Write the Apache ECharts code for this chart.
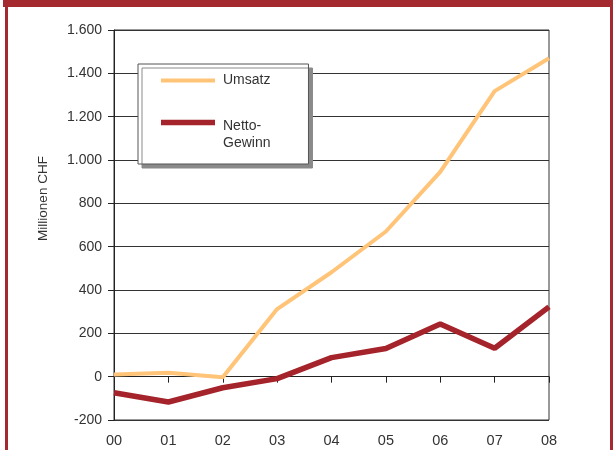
<!DOCTYPE html>
<html>
<head>
<meta charset="utf-8">
<script src="https://cdn.jsdelivr.net/npm/echarts@6/dist/echarts.min.js"></script>
<style>
  html, body { margin: 0; padding: 0; background: #fff; }
  #chart { width: 616px; height: 450px; }
</style>
</head>
<body>
<div id="chart"></div>
<script>
// years (x axis)
const years = ['00', '01', '02', '03', '04', '05', '06', '07', '08'];
// Mio. CHF
const umsatz = [10, 18, -3, 312, 482, 670, 945, 1318, 1470];
const nettoGewinn = [-74, -117, -51, -9, 88, 130, 243, 131, 322];

const FONT = 'Arial, "Liberation Sans", sans-serif';
const FRAME = '#a52a30';

// 1.600 style thousands separator
const fmt = v => String(v).replace(/\B(?=(\d{3})+(?!\d))/g, '.');

// legend bar icons: invisible slivers at 0 and 14 keep the icon box 14 high
const barIcon = (y0, y1) =>
  'path://M0,0L54,0L54,0.01L0,0.01Z' +
  'M0,' + y0 + 'L54,' + y0 + 'L54,' + y1 + 'L0,' + y1 + 'Z' +
  'M0,13.99L54,13.99L54,14L0,14Z';

const chart = echarts.init(document.getElementById('chart'));

chart.setOption({
  backgroundColor: '#fff',
  animation: false,
  textStyle: { fontFamily: FONT },
  grid: {
    left: 114,
    right: 67,
    top: 30,
    bottom: 30,
    show: true,
    borderColor: '#333',
    borderWidth: 1,
    backgroundColor: '#fff'
  },
  legend: {
    orient: 'vertical',
    left: 138,
    top: 64,
    padding: [9.5, 38, 14, 23],
    itemWidth: 54,
    itemHeight: 14,
    itemGap: 6,
    backgroundColor: '#fff',
    borderColor: '#555',
    borderWidth: 1,
    shadowColor: '#8a8a8a',
    shadowBlur: 0,
    shadowOffsetX: 4,
    shadowOffsetY: 4,
    formatter: name => name === 'Netto-Gewinn'
      ? '{s| }\n{t|Netto-}\n{t|Gewinn}'
      : '{t|' + name + '}',
    textStyle: {
      fontSize: 14,
      color: '#333',
      fontFamily: FONT,
      rich: {
        s: { fontSize: 14, lineHeight: 24, height: 24 },
        t: { fontSize: 14, lineHeight: 17, color: '#333', fontFamily: FONT, padding: [0, 0, 0, 3] }
      }
    },
    data: [
      { name: 'Umsatz', icon: barIcon(5, 9) },
      { name: 'Netto-Gewinn', icon: barIcon(4.25, 9.75) }
    ]
  },
  xAxis: [
    {
      type: 'category',
      data: years,
      boundaryGap: false,
      position: 'bottom',
      axisLine: { show: false, onZero: false },
      axisTick: { show: false },
      axisLabel: { color: '#333', fontSize: 14.5, margin: 13, fontFamily: FONT },
      splitLine: { show: false }
    },
    {
      // zero line with the year ticks
      type: 'category',
      data: years,
      boundaryGap: false,
      position: 'bottom',
      axisLine: { show: true, onZero: true, lineStyle: { color: '#222', width: 1 } },
      axisTick: { show: true, length: 6, lineStyle: { color: '#222' } },
      axisLabel: { show: false },
      splitLine: { show: false }
    }
  ],
  yAxis: {
    type: 'value',
    min: -200,
    max: 1600,
    interval: 200,
    name: 'Millionen CHF',
    nameLocation: 'middle',
    nameRotate: 90,
    nameGap: 64,
    nameTextStyle: { color: '#333', fontSize: 13.5, fontFamily: FONT, padding: [0, 0, 0, 53] },
    axisLine: { show: true, lineStyle: { color: '#222' } },
    axisTick: { show: true, length: 6, lineStyle: { color: '#222' } },
    axisLabel: { color: '#333', fontSize: 14, margin: 12, fontFamily: FONT, formatter: fmt },
    splitLine: { show: true, lineStyle: { color: '#333', width: 1 } }
  },
  series: [
    {
      name: 'Umsatz',
      type: 'line',
      xAxisIndex: 0,
      data: umsatz,
      symbol: 'none',
      color: '#ffc477',
      lineStyle: { color: '#ffc477', width: 4 },
      z: 3
    },
    {
      name: 'Netto-Gewinn',
      type: 'line',
      xAxisIndex: 0,
      data: nettoGewinn,
      symbol: 'none',
      color: '#a5232a',
      lineStyle: { color: '#a5232a', width: 5.5 },
      z: 4
    }
  ],
  graphic: [
    // red frame round the figure
    { type: 'rect', left: 3, top: 0, shape: { width: 610, height: 7 }, style: { fill: FRAME }, silent: true },
    { type: 'rect', left: 5, top: 0, shape: { width: 3, height: 450 }, style: { fill: FRAME }, silent: true },
    { type: 'rect', left: 610, top: 0, shape: { width: 3, height: 450 }, style: { fill: FRAME }, silent: true }
  ]
});
</script>
</body>
</html>
